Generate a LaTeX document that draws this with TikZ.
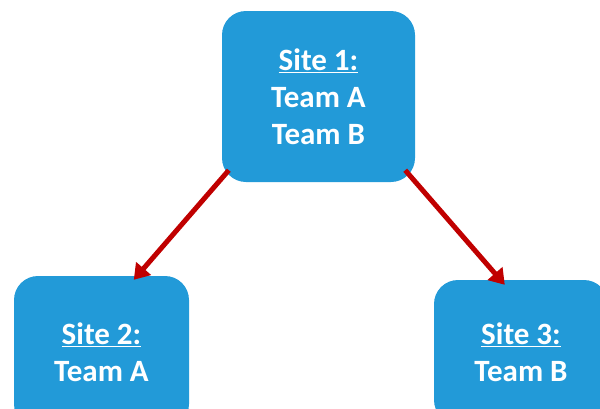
\documentclass[tikz,border=0pt]{standalone}
\usepackage{fontspec}
\setmainfont{Carlito}
\usetikzlibrary{arrows.meta,calc}
\definecolor{boxblue}{HTML}{229AD8}
\definecolor{arrred}{HTML}{C00000}
\begin{document}
\begin{tikzpicture}[x=1pt,y=1pt,
  site/.style={fill=boxblue, rounded corners=24pt, text=white,
    font=\fontsize{31}{37}\selectfont\bfseries, align=center, inner sep=0pt},
  link/.style={draw=arrred, line width=5pt, -{Triangle[length=15pt,width=19pt]}}]
\useasboundingbox (0,0) rectangle (600,-408);
\clip (0,0) rectangle (600,-408);
\node[site, minimum width=193pt, minimum height=171pt] (s1) at (318.5,-96.5)
  {\underline{Site 1:}\\Team A\\Team B};
\node[site, minimum width=175pt, minimum height=152pt] (s2) at (101.5,-352)
  {\underline{Site 2:}\\Team A};
\node[site, minimum width=174pt, minimum height=144pt] (s3) at (521,-352)
  {\underline{Site 3:}\\Team B};
\draw[link] ([xshift=7pt,yshift=12pt]s1.south west) -- ([xshift=120pt,yshift=-4pt]s2.north west);
\draw[link] ([xshift=-10pt,yshift=12pt]s1.south east) -- ([xshift=71pt,yshift=-5pt]s3.north west);
\end{tikzpicture}
\end{document}
